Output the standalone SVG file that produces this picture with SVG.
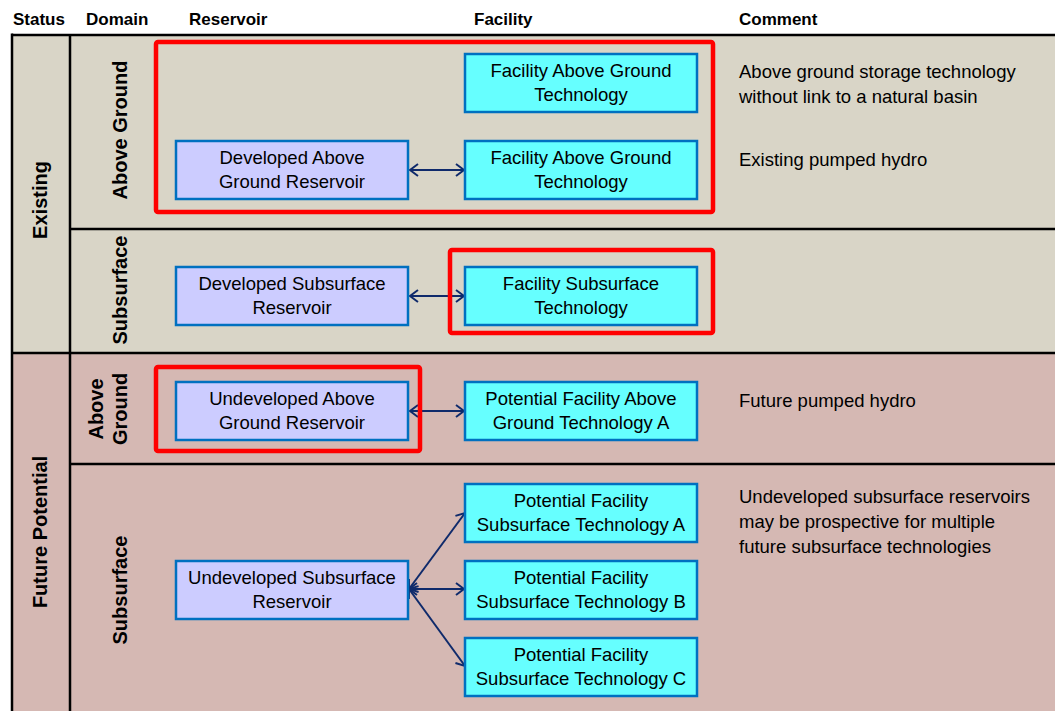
<svg xmlns="http://www.w3.org/2000/svg" width="1055" height="711" viewBox="0 0 1055 711">
<defs>
<marker id="ah" markerUnits="userSpaceOnUse" markerWidth="14" markerHeight="16" refX="9" refY="7" orient="auto-start-reverse" viewBox="0 0 14 14">
<path d="M1,1 L9,7 L1,13" fill="none" stroke="#0F2A6B" stroke-width="2"/>
</marker>
</defs>
<style>
.t{font-family:"Liberation Sans",Arial,sans-serif;font-size:18.5px;fill:#000}
.h{font-family:"Liberation Sans",Arial,sans-serif;font-size:17px;font-weight:bold;fill:#000}
.v{font-family:"Liberation Sans",Arial,sans-serif;font-size:20px;font-weight:bold;fill:#000}
.res{fill:#CCCCFF;stroke:#0070C0;stroke-width:2.5}
.fac{fill:#66FFFF;stroke:#0070C0;stroke-width:2.5}
.red{fill:none;stroke:#FF0000;stroke-width:4.5}
.ln{fill:none;stroke:#000;stroke-width:2.5}
.con{stroke:#0F2A6B;stroke-width:2;fill:none;marker-start:url(#ah);marker-end:url(#ah)}
</style>
<rect width="1055" height="711" fill="#FFFFFF"/>
<rect x="12" y="35" width="1043" height="318" fill="#D9D5C7"/>
<rect x="12" y="353" width="1043" height="358" fill="#D5B8B3"/>
<g id="grid">
<line class="ln" x1="12" y1="35" x2="1055" y2="35" stroke-width="3"/>
<line class="ln" x1="12" y1="33.5" x2="12" y2="711" stroke-width="3"/>
<line class="ln" x1="70" y1="35" x2="70" y2="711"/>
<line class="ln" x1="70" y1="229" x2="1055" y2="229"/>
<line class="ln" x1="12" y1="353" x2="1055" y2="353" stroke-width="3"/>
<line class="ln" x1="70" y1="464" x2="1055" y2="464"/>
</g>
<g id="headers">
<text class="h" x="13" y="25">Status</text>
<text class="h" x="86" y="25">Domain</text>
<text class="h" x="189" y="25">Reservoir</text>
<text class="h" x="474" y="25">Facility</text>
<text class="h" x="739" y="25">Comment</text>
</g>
<g id="labels">
<text class="v" transform="translate(47,200) rotate(-90)" text-anchor="middle">Existing</text>
<text class="v" transform="translate(47,532) rotate(-90)" text-anchor="middle">Future Potential</text>
<text class="v" transform="translate(127,130) rotate(-90)" text-anchor="middle">Above Ground</text>
<text class="v" transform="translate(127,290) rotate(-90)" text-anchor="middle">Subsurface</text>
<text class="v" transform="translate(103,409) rotate(-90)" text-anchor="middle">Above</text>
<text class="v" transform="translate(127,409) rotate(-90)" text-anchor="middle">Ground</text>
<text class="v" transform="translate(127,590) rotate(-90)" text-anchor="middle">Subsurface</text>
</g>
<g id="connectors">
<line class="con" x1="410" y1="170" x2="464" y2="170"/>
<line class="con" x1="410" y1="296" x2="464" y2="296"/>
<line class="con" x1="410" y1="411" x2="464" y2="411"/>
<line class="con" x1="409" y1="589" x2="465" y2="513"/>
<line class="con" x1="409" y1="589" x2="464" y2="589"/>
<line class="con" x1="409" y1="589" x2="465" y2="666"/>
</g>
<g id="n1"><rect class="fac" x="465" y="54" width="232" height="58"/><text class="t" x="581" y="77" text-anchor="middle">Facility Above Ground</text><text class="t" x="581" y="101" text-anchor="middle">Technology</text></g>
<g id="n2"><rect class="res" x="176" y="141" width="232" height="58"/><text class="t" x="292" y="164" text-anchor="middle">Developed Above</text><text class="t" x="292" y="188" text-anchor="middle">Ground Reservoir</text></g>
<g id="n3"><rect class="fac" x="465" y="141" width="232" height="58"/><text class="t" x="581" y="164" text-anchor="middle">Facility Above Ground</text><text class="t" x="581" y="188" text-anchor="middle">Technology</text></g>
<g id="n4"><rect class="res" x="176" y="267" width="232" height="58"/><text class="t" x="292" y="290" text-anchor="middle">Developed Subsurface</text><text class="t" x="292" y="314" text-anchor="middle">Reservoir</text></g>
<g id="n5"><rect class="fac" x="465" y="267" width="232" height="58"/><text class="t" x="581" y="290" text-anchor="middle">Facility Subsurface</text><text class="t" x="581" y="314" text-anchor="middle">Technology</text></g>
<g id="n6"><rect class="res" x="176" y="382" width="232" height="58"/><text class="t" x="292" y="405" text-anchor="middle">Undeveloped Above</text><text class="t" x="292" y="429" text-anchor="middle">Ground Reservoir</text></g>
<g id="n7"><rect class="fac" x="465" y="382" width="232" height="58"/><text class="t" x="581" y="405" text-anchor="middle">Potential Facility Above</text><text class="t" x="581" y="429" text-anchor="middle">Ground Technology A</text></g>
<g id="n8"><rect class="fac" x="465" y="484" width="232" height="58"/><text class="t" x="581" y="507" text-anchor="middle">Potential Facility</text><text class="t" x="581" y="531" text-anchor="middle">Subsurface Technology A</text></g>
<g id="n9"><rect class="res" x="176" y="561" width="232" height="58"/><text class="t" x="292" y="584" text-anchor="middle">Undeveloped Subsurface</text><text class="t" x="292" y="608" text-anchor="middle">Reservoir</text></g>
<g id="n10"><rect class="fac" x="465" y="561" width="232" height="58"/><text class="t" x="581" y="584" text-anchor="middle">Potential Facility</text><text class="t" x="581" y="608" text-anchor="middle">Subsurface Technology B</text></g>
<g id="n11"><rect class="fac" x="465" y="638" width="232" height="58"/><text class="t" x="581" y="661" text-anchor="middle">Potential Facility</text><text class="t" x="581" y="685" text-anchor="middle">Subsurface Technology C</text></g>
<g id="highlights">
<rect class="red" x="156" y="42" width="557" height="170" rx="2"/>
<rect class="red" x="450" y="250" width="263" height="83" rx="2"/>
<rect class="red" x="156" y="367" width="264" height="84" rx="2"/>
</g>
<g id="comments">
<text class="t" x="739" y="78">Above ground storage technology</text>
<text class="t" x="739" y="103">without link to a natural basin</text>
<text class="t" x="739" y="166">Existing pumped hydro</text>
<text class="t" x="739" y="407">Future pumped hydro</text>
<text class="t" x="739" y="503">Undeveloped subsurface reservoirs</text>
<text class="t" x="739" y="528">may be prospective for multiple</text>
<text class="t" x="739" y="553">future subsurface technologies</text>
</g>
</svg>
